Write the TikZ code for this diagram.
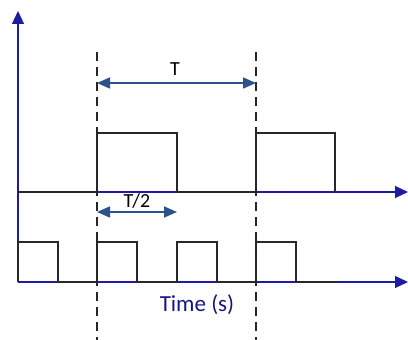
\documentclass[tikz,border=0pt]{standalone}
\usepackage{fontspec}
\setmainfont{Carlito}
\usetikzlibrary{arrows.meta}
\definecolor{axisblue}{RGB}{28,28,165}
\definecolor{dimblue}{RGB}{44,82,142}
\definecolor{textnavy}{RGB}{22,22,130}
\definecolor{wave}{RGB}{40,40,40}
\tikzset{
  x=1pt,y=1pt,
  axisline/.style={draw=axisblue,line width=1.3pt,-{Triangle[length=13pt,width=12pt]}},
  dimline/.style={draw=dimblue,line width=1.6pt,{Triangle[length=13pt,width=11pt]}-{Triangle[length=13pt,width=11pt]}},
  guide/.style={draw=black!85,line width=1.4pt,dash pattern=on 9pt off 6pt},
  wavestyle/.style={draw=wave,line width=1.6pt,line join=miter},
  lbl/.style={inner sep=0pt,font=\fontsize{20}{24}\selectfont},
}
\begin{document}
\begin{tikzpicture}
\useasboundingbox (0,0) rectangle (408,340);
% coordinates
\coordinate (o) at (18,58);
\coordinate (ytop) at (18,329);
\coordinate (u0) at (18,148);
\coordinate (uend) at (408,148);
\coordinate (lend) at (408,58);
\coordinate (d1t) at (97,288);
\coordinate (d1b) at (97,0);
\coordinate (d2t) at (256,288);
\coordinate (d2b) at (256,0);
\coordinate (ta) at (97,257);
\coordinate (tb) at (256,257);
\coordinate (ha) at (97,128);
\coordinate (hb) at (177,128);
% axes
\draw[axisline] (o) -- (ytop);
\draw[axisline] (u0) -- (uend);
\draw[axisline] (o) -- (lend);
% waves
\draw[wavestyle] (u0) -- (97,148) -- (97,207) -- (177,207) -- (177,148) -- (256,148) -- (256,207) -- (335,207) -- (335,148);
\draw[wavestyle] (o) -- (18,98) -- (58,98) -- (58,58) -- (97,58) -- (97,98) -- (137,98) -- (137,58) -- (177,58) -- (177,98) -- (217,98) -- (217,58) -- (256,58) -- (256,98) -- (296,98) -- (296,58) -- (337,58);
% guides
\draw[guide] (d1t) -- (d1b);
\draw[guide] (d2t) -- (d2b);
% dimensions
\draw[dimline] (ta) -- (tb);
\draw[dimline] (ha) -- (hb);
\node[lbl] (tlabel) at (175,271) {T};
\node[lbl] (hlabel) at (137,139) {T/2};
\node[inner sep=0pt,text=textnavy,font=\fontsize{23}{27}\selectfont] (time) at (197,35) {Time (s)};
\end{tikzpicture}
\end{document}
